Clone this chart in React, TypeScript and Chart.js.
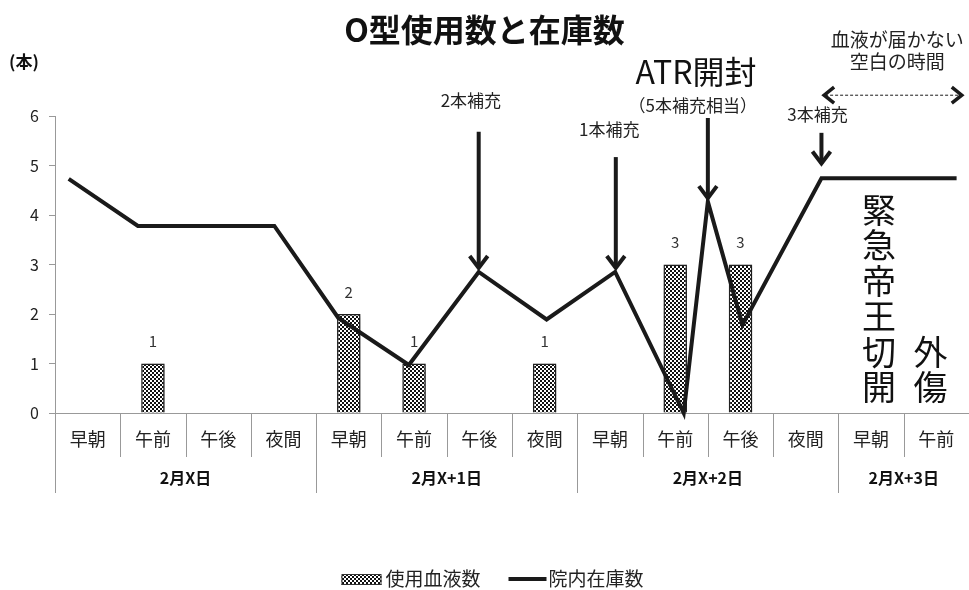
import React, { useEffect, useRef } from 'react';
import { Chart, registerables } from 'chart.js';

Chart.register(...registerables);

const FONT = "'Noto Sans CJK JP', 'Noto Sans', sans-serif";

const chartTitle = 'O型使用数と在庫数';
const yUnit = '(本)';
const categories = ['早朝', '午前', '午後', '夜間', '早朝', '午前', '午後', '夜間', '早朝', '午前', '午後', '夜間', '早朝', '午前'];
const days = ['2月X日', '2月X+1日', '2月X+2日', '2月X+3日'];
const daySpans = [4, 4, 4, 2];
const usedBlood = [0, 1, 0, 0, 2, 1, 0, 1, 0, 3, 3, 0, 0, 0];
// stock line vertices (x in category units, y in units)
const stockX = [-0.29, 0.77, 2.86, 3.84, 4.92, 5.99, 7.03, 8.08, 9.13, 9.5, 10.03, 11.24, 13.31];
const stockY = [4.73, 3.78, 3.78, 1.92, 0.97, 2.85, 1.89, 2.85, 0, 4.27, 1.78, 4.74, 4.74];
const yMin = 0;
const yMax = 6;
const yStep = 1;
const seriesNames = ['使用血液数', '院内在庫数'];

// annotation arrows
const arrowX = [5.99, 8.09, 9.5, 11.24];
const arrowTop = [5.68, 5.17, 5.96, 5.66];
const arrowTip = [2.89, 2.89, 4.3, 5.0];
const arrowLabels = ['2本補充', '1本補充', '（5本補充相当）', '3本補充'];
const arrowLabelX = [5.87, 7.99, 9.27, 11.18];
const arrowLabelY = [6.32, 5.72, 6.22, 6.02];
const atrLabel = 'ATR開封';
const atrLabelPos = [9.32, 6.89];
const gapLabels = ['血液が届かない', '空白の時間'];
const gapLabelX = 12.4;
const gapLabelY = [7.54, 7.09];
const gapArrow = [11.25, 13.42, 6.42];
const verticalNotes = ['緊急帝王切開', '外傷'];
const verticalNoteX = [12.12, 12.91];
const verticalNoteBottom = 0.16;

function makePattern(): CanvasPattern | string {
  const c = document.createElement('canvas');
  c.width = 4;
  c.height = 4;
  const g = c.getContext('2d');
  if (!g) return '#888';
  g.fillStyle = '#ffffff';
  g.fillRect(0, 0, 4, 4);
  g.fillStyle = '#111111';
  g.fillRect(0, 0, 2, 2);
  g.fillRect(2, 2, 2, 2);
  const p = g.createPattern(c, 'repeat');
  return p || '#888';
}

export default function App() {
  const ref = useRef<HTMLCanvasElement>(null);

  useEffect(() => {
    document.body.style.margin = '0';
    const canvas = ref.current;
    if (!canvas) return;
    const pattern = makePattern();

    const shadowPlugin = {
      id: 'barShadow',
      beforeDatasetDraw(chart: any, args: any) {
        if (args.index === 1) {
          const ctx = chart.ctx;
          ctx.save();
          ctx.shadowColor = 'rgba(0,0,0,0.3)';
          ctx.shadowBlur = 4;
          ctx.shadowOffsetX = 2;
          ctx.shadowOffsetY = 1;
        }
      },
      afterDatasetDraw(chart: any, args: any) {
        if (args.index === 1) chart.ctx.restore();
      },
    };

    const annotPlugin = {
      id: 'annot',
      afterDraw(chart: any) {
        const ctx = chart.ctx as CanvasRenderingContext2D;
        const xs = chart.scales.x2;
        const ys = chart.scales.y;
        const px = (v: number) => xs.getPixelForValue(v);
        const py = (v: number) => ys.getPixelForValue(v);
        const base = py(0);
        ctx.save();

        // title
        ctx.fillStyle = '#111';
        ctx.textAlign = 'center';
        ctx.textBaseline = 'middle';
        ctx.font = `bold 32px ${FONT}`;
        ctx.fillText(chartTitle, chart.width / 2, 30);

        // unit
        ctx.font = `bold 17px ${FONT}`;
        ctx.textAlign = 'left';
        ctx.fillText(yUnit, 9, 62);

        // x axis separators & labels
        ctx.strokeStyle = '#999';
        ctx.lineWidth = 1;
        const starts: number[] = [];
        let acc = 0;
        daySpans.forEach((s) => { starts.push(acc); acc += s; });
        for (let i = 0; i <= categories.length; i++) {
          const x = Math.round(px(i - 0.5)) + 0.5;
          const long = starts.includes(i);
          ctx.beginPath();
          ctx.moveTo(x, base);
          ctx.lineTo(x, base + (long ? 80 : 44));
          ctx.stroke();
        }
        ctx.fillStyle = '#222';
        ctx.textAlign = 'center';
        ctx.font = `18px ${FONT}`;
        categories.forEach((c, i) => ctx.fillText(c, px(i), base + 26));
        ctx.font = `bold 16px ${FONT}`;
        ctx.fillStyle = '#111';
        days.forEach((d, i) => {
          const mid = starts[i] + daySpans[i] / 2 - 0.5;
          ctx.fillText(d, px(mid), base + 65);
        });

        // bar value labels
        const meta = chart.getDatasetMeta(1);
        ctx.font = `15px ${FONT}`;
        ctx.fillStyle = '#333';
        meta.data.forEach((el: any, i: number) => {
          if (usedBlood[i] > 0) ctx.fillText(String(usedBlood[i]), el.x, el.y - 22);
        });

        // arrows
        ctx.strokeStyle = '#1a1a1a';
        ctx.lineWidth = 4;
        ctx.lineCap = 'butt';
        ctx.lineJoin = 'miter';
        arrowX.forEach((ax, i) => {
          const x = px(ax);
          const y0 = py(arrowTop[i]);
          const y1 = py(arrowTip[i]);
          ctx.beginPath();
          ctx.moveTo(x, y0);
          ctx.lineTo(x, y1 - 2);
          ctx.stroke();
          ctx.beginPath();
          ctx.moveTo(x - 9, y1 - 14);
          ctx.lineTo(x, y1 - 2);
          ctx.lineTo(x + 9, y1 - 14);
          ctx.stroke();
        });
        ctx.fillStyle = '#222';
        ctx.font = `17px ${FONT}`;
        arrowLabels.forEach((t, i) => ctx.fillText(t, px(arrowLabelX[i]), py(arrowLabelY[i])));
        ctx.font = `32px ${FONT}`;
        ctx.fillStyle = '#111';
        ctx.fillText(atrLabel, px(atrLabelPos[0]), py(atrLabelPos[1]));

        // gap labels
        ctx.font = `19px ${FONT}`;
        ctx.fillStyle = '#222';
        gapLabels.forEach((t, i) => ctx.fillText(t, px(gapLabelX), py(gapLabelY[i])));
        // dashed double arrow
        const gx0 = px(gapArrow[0]);
        const gx1 = Math.min(px(gapArrow[1]), chart.width - 1);
        const gy = py(gapArrow[2]);
        ctx.lineWidth = 1;
        ctx.setLineDash([3, 2]);
        ctx.beginPath();
        ctx.moveTo(gx0 + 3, gy);
        ctx.lineTo(gx1 - 3, gy);
        ctx.stroke();
        ctx.setLineDash([]);
        ctx.lineWidth = 3.5;
        ctx.beginPath();
        ctx.moveTo(gx0 + 12, gy - 8);
        ctx.lineTo(gx0 + 2, gy);
        ctx.lineTo(gx0 + 12, gy + 8);
        ctx.stroke();
        ctx.beginPath();
        ctx.moveTo(gx1 - 12, gy - 8);
        ctx.lineTo(gx1 - 2, gy);
        ctx.lineTo(gx1 - 12, gy + 8);
        ctx.stroke();

        // vertical notes
        ctx.font = `34px ${FONT}`;
        ctx.fillStyle = '#111';
        const pitch = 35.5;
        verticalNotes.forEach((t, k) => {
          const chars = Array.from(t);
          const x = px(verticalNoteX[k]);
          const bottom = py(verticalNoteBottom);
          chars.forEach((ch, i) => {
            const y = bottom - (chars.length - i - 0.5) * pitch;
            ctx.fillText(ch, x, y);
          });
        });

        // legend
        ctx.font = `19px ${FONT}`;
        const ly = 579;
        const boxW = 40;
        const lineW = 38;
        const w1 = ctx.measureText(seriesNames[0]).width;
        const w2 = ctx.measureText(seriesNames[1]).width;
        const total = boxW + 4 + w1 + 28 + lineW + 2 + w2;
        let lx = chart.width / 2 + 8 - total / 2;
        ctx.fillStyle = pattern as any;
        ctx.fillRect(lx, ly - 5, boxW, 11);
        ctx.strokeStyle = '#333';
        ctx.lineWidth = 1;
        ctx.strokeRect(lx + 0.5, ly - 4.5, boxW - 1, 10);
        lx += boxW + 4;
        ctx.fillStyle = '#222';
        ctx.textAlign = 'left';
        ctx.fillText(seriesNames[0], lx, ly);
        lx += w1 + 28;
        ctx.strokeStyle = '#1a1a1a';
        ctx.lineWidth = 4;
        ctx.beginPath();
        ctx.moveTo(lx, ly);
        ctx.lineTo(lx + lineW, ly);
        ctx.stroke();
        lx += lineW + 2;
        ctx.fillText(seriesNames[1], lx, ly);

        ctx.restore();
      },
    };

    const chart = new Chart(canvas, {
      type: 'bar',
      data: {
        labels: categories,
        datasets: [
          {
            type: 'line',
            label: seriesNames[1],
            data: stockX.map((x, i) => ({ x, y: stockY[i] })),
            xAxisID: 'x2',
            yAxisID: 'y',
            borderColor: '#1a1a1a',
            borderWidth: 4,
            pointRadius: 0,
            tension: 0,
            fill: false,
            clip: false,
            borderJoinStyle: 'miter',
            order: 0,
          } as any,
          {
            type: 'bar',
            label: seriesNames[0],
            data: usedBlood.map((v) => (v > 0 ? v : null)),
            xAxisID: 'x',
            yAxisID: 'y',
            backgroundColor: pattern as any,
            borderColor: '#222',
            borderWidth: 1.5,
            borderSkipped: 'bottom',
            grouped: false,
            barPercentage: 0.36,
            categoryPercentage: 1,
            order: 1,
          } as any,
        ],
      },
      options: {
        responsive: false,
        animation: false,
        layout: { padding: { top: 116, right: -4, bottom: 0, left: 0 } },
        plugins: {
          legend: { display: false },
          tooltip: { enabled: false },
          title: { display: false },
        },
        scales: {
          x: {
            type: 'category',
            offset: true,
            grid: { display: false },
            ticks: { display: false },
            border: { display: true, color: '#999', width: 1 },
            afterFit: (s: any) => { s.height = 177; },
          },
          x2: {
            type: 'linear',
            min: -0.5,
            max: 13.5,
            offset: false,
            display: false,
          },
          y: {
            min: yMin,
            max: yMax,
            ticks: { stepSize: yStep, color: '#222', font: { family: FONT, size: 16 }, padding: 10 },
            grid: { drawOnChartArea: false, tickLength: 6, color: '#999' },
            border: { color: '#999' },
            afterFit: (s: any) => { s.width = 55; },
          },
        },
      } as any,
      plugins: [shadowPlugin, annotPlugin],
    });

    return () => chart.destroy();
  }, []);

  return (
    <div style={{ width: 969, height: 590 }}>
      <canvas ref={ref} width={969} height={590} style={{ width: 969, height: 590, display: 'block' }} />
    </div>
  );
}
